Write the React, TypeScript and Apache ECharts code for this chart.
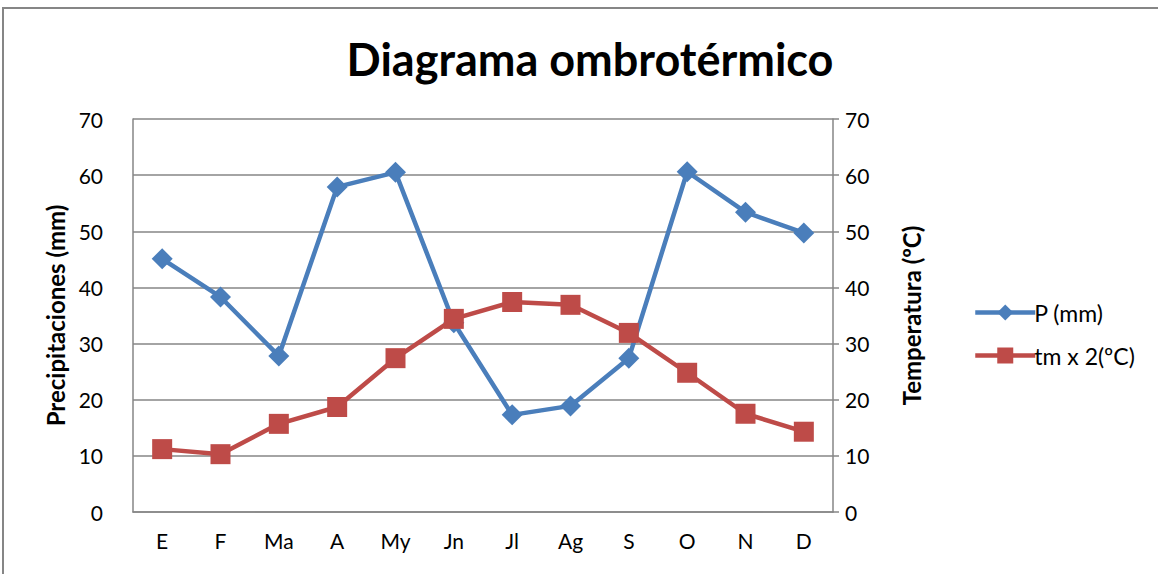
import React, { useEffect, useRef } from "react";
import * as echarts from "echarts";

const months = ["E", "F", "Ma", "A", "My", "Jn", "Jl", "Ag", "S", "O", "N", "D"];
const precip = [45.1, 38.3, 27.8, 57.9, 60.5, 33.7, 17.3, 18.9, 27.4, 60.6, 53.4, 49.7];
const temp2 = [11.2, 10.3, 15.7, 18.7, 27.4, 34.4, 37.4, 36.9, 31.9, 24.8, 17.5, 14.3];

const FONT = "Lato, 'Open Sans', sans-serif";

export default function App() {
  const ref = useRef<HTMLDivElement>(null);
  useEffect(() => {
    if (!ref.current) return;
    const chart = echarts.init(ref.current, undefined, { renderer: "svg" });
    const axisLine = { show: true, lineStyle: { color: "#868686", width: 1.5 } };
    chart.setOption({
      animation: false,
      backgroundColor: "#ffffff",
      textStyle: { fontFamily: FONT },
      graphic: [
        {
          type: "rect",
          shape: { x: 3, y: 8, width: 1160, height: 580 },
          style: { fill: "none", stroke: "#868686", lineWidth: 2 },
          silent: true,
        },
      ],
      title: {
        text: "Diagrama ombrotérmico",
        left: 585,
        textAlign: "center",
        top: 31,
        textStyle: { fontFamily: FONT, fontWeight: "bold", fontSize: 45, color: "#000" },
      },
      legend: {
        orient: "vertical",
        left: 968,
        top: 296,
        itemGap: 20,
        itemWidth: 60,
        itemHeight: 20,
        lineStyle: { width: 4.5 },
        textStyle: { fontFamily: FONT, fontSize: 23, color: "#000", padding: [0, 0, 0, -6] },
        data: ["P (mm)", "tm x 2(ºC)"],
      },
      grid: { left: 133, right: 325, top: 119, bottom: 62 },
      xAxis: {
        type: "category",
        data: months,
        boundaryGap: true,
        axisLine,
        axisTick: { show: false },
        axisLabel: { color: "#000", fontSize: 21, margin: 18, fontFamily: FONT },
      },
      yAxis: [
        {
          type: "value",
          min: 0,
          max: 70,
          interval: 10,
          position: "left",
          name: "Precipitaciones (mm)",
          nameLocation: "middle",
          nameGap: 64,
          nameTextStyle: { fontFamily: FONT, fontWeight: "bold", fontSize: 24, color: "#000" },
          axisLine,
          axisTick: { show: false },
          axisLabel: { color: "#000", fontSize: 21, margin: 30, fontFamily: FONT },
          splitLine: { show: true, lineStyle: { color: "#868686", width: 1.5 } },
        },
        {
          type: "value",
          min: 0,
          max: 70,
          interval: 10,
          position: "right",
          name: "Temperatura (ºC)",
          nameLocation: "middle",
          nameGap: 66,
          nameTextStyle: { fontFamily: FONT, fontWeight: "bold", fontSize: 24, color: "#000" },
          axisLine,
          axisTick: { show: true, length: 6, lineStyle: { color: "#868686", width: 1.5 } },
          axisLabel: { color: "#000", fontSize: 21, margin: 12, fontFamily: FONT },
          splitLine: { show: false },
        },
      ],
      series: [
        {
          name: "P (mm)",
          type: "line",
          data: precip,
          yAxisIndex: 0,
          symbol: "diamond",
          symbolSize: 21,
          lineStyle: { color: "#4A7EBB", width: 4.5 },
          itemStyle: { color: "#4A7EBB" },
        },
        {
          name: "tm x 2(ºC)",
          type: "line",
          data: temp2,
          yAxisIndex: 1,
          symbol: "rect",
          symbolSize: 20,
          lineStyle: { color: "#BE4B48", width: 4.5 },
          itemStyle: { color: "#BE4B48" },
        },
      ],
    });
    return () => chart.dispose();
  }, []);
  return (
    <div
      ref={ref}
      style={{ position: "absolute", left: 0, top: 0, width: 1158, height: 574 }}
    />
  );
}
